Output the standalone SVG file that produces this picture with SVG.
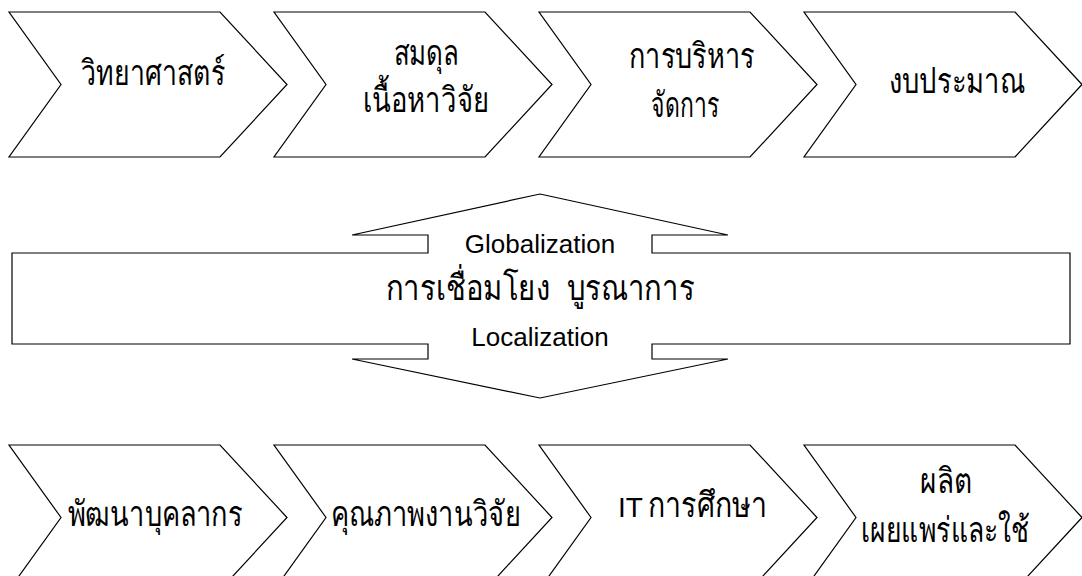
<svg xmlns="http://www.w3.org/2000/svg" width="1082" height="576" viewBox="0 0 1082 576">
<defs>
<style>
.s{fill:#fff;stroke:#000;stroke-width:1.2;stroke-linejoin:miter}
.t{font-family:"Liberation Sans","DejaVu Sans",sans-serif;font-size:35px;fill:#000;text-anchor:middle}
.l{font-family:"Liberation Sans",Arial,sans-serif;font-size:26px;fill:#000;text-anchor:middle}
.e{font-family:"Liberation Sans",Arial,sans-serif;font-size:28px;fill:#000}
.p{white-space:pre}
</style>
<polygon id="chev" class="s" points="0,0 211,0 278,72.5 211,145 0,145 52,72.5"/>
</defs>
<rect width="1082" height="576" fill="#fff"/>
<g id="n1"><use href="#chev" x="9" y="12"/><text class="t" x="153" y="85" textLength="144" lengthAdjust="spacingAndGlyphs">วิทยาศาสตร์</text></g>
<g id="n2"><use href="#chev" x="274" y="12"/><text class="t" x="426" y="65" textLength="65" lengthAdjust="spacingAndGlyphs">สมดุล</text><text class="t" x="426" y="112" textLength="127" lengthAdjust="spacingAndGlyphs">เนื้อหาวิจัย</text></g>
<g id="n3"><use href="#chev" x="539" y="12"/><text class="t" x="692" y="68" textLength="126" lengthAdjust="spacingAndGlyphs">การบริหาร</text><text class="t" x="685" y="117" textLength="68" lengthAdjust="spacingAndGlyphs">จัดการ</text></g>
<g id="n4"><use href="#chev" x="804" y="12"/><text class="t" x="957" y="93" textLength="136" lengthAdjust="spacingAndGlyphs">งบประมาณ</text></g>
<g id="center"><polygon class="s" points="540,194 728,235 652,235 652,253 1070,253 1070,344 652,344 652,359 728,359 540,398 352,359 428,359 428,344 12,344 12,253 428,253 428,235 352,235"/>
<text class="l" x="540" y="253">Globalization</text>
<text class="t p" x="540" y="300" textLength="309" lengthAdjust="spacingAndGlyphs" xml:space="preserve">การเชื่อมโยง  บูรณาการ</text>
<text class="l" x="540" y="346">Localization</text></g>
<g id="n5"><use href="#chev" x="9" y="445"/><text class="t" x="155" y="526" textLength="175" lengthAdjust="spacingAndGlyphs">พัฒนาบุคลากร</text></g>
<g id="n6"><use href="#chev" x="274" y="445"/><text class="t" x="426" y="526" textLength="190" lengthAdjust="spacingAndGlyphs">คุณภาพงานวิจัย</text></g>
<g id="n7"><use href="#chev" x="539" y="445"/><text class="e" x="618" y="517">IT</text><text class="t" x="707.5" y="517" textLength="119" lengthAdjust="spacingAndGlyphs">การศึกษา</text></g>
<g id="n8"><use href="#chev" x="804" y="445"/><text class="t" x="946" y="493" textLength="52" lengthAdjust="spacingAndGlyphs">ผลิต</text><text class="t" x="945" y="542" textLength="169" lengthAdjust="spacingAndGlyphs">เผยแพร่และใช้</text></g>
<g id="connectors"></g>
</svg>
